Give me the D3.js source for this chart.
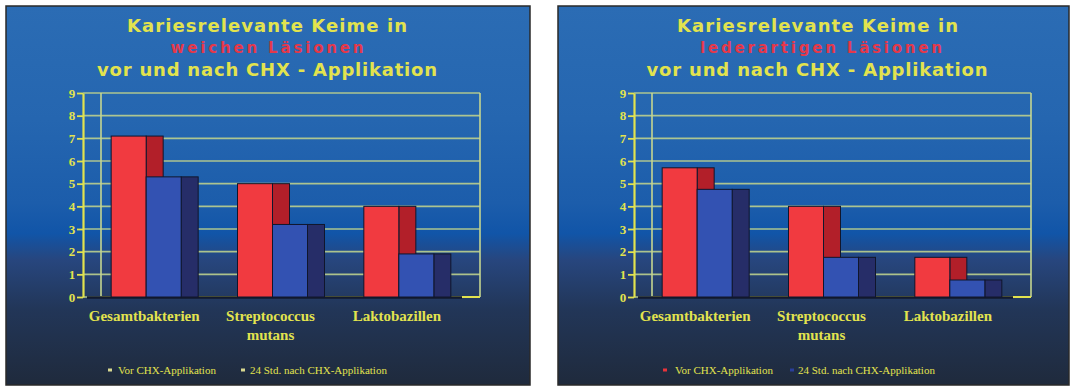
<!DOCTYPE html>
<html><head><meta charset="utf-8">
<script src="https://cdn.jsdelivr.net/npm/d3@7"></script>
<style>html,body{margin:0;padding:0;background:#fff;} svg{display:block}</style>
</head><body><svg id="c" width="1071" height="387"></svg>
<script>
// ---- data ----
const categories = ["Gesamtbakterien", "Streptococcus mutans", "Laktobazillen"];
const seriesNames = ["Vor CHX-Applikation", "24 Std. nach CHX-Applikation"];
const yTicks = [0, 1, 2, 3, 4, 5, 6, 7, 8, 9];
const titleTop = "Kariesrelevante Keime in";
const titleBottom = "vor und nach CHX - Applikation";
const lesionTitles = ["weichen Läsionen", "lederartigen Läsionen"];
const weicheVor = [7.1, 5.0, 4.0];
const weicheNach = [5.3, 3.2, 1.9];
const lederVor = [5.7, 4.0, 1.75];
const lederNach = [4.75, 1.75, 0.75];

// ---- layout / style ----
const panels = [
  { lesion: lesionTitles[0], values: [weicheVor, weicheNach], px: 6, pw: 524, dx: 0,
    titleW: [280, 193, 340], titleCx: [267, 267, 267],
    legend: [{m: 110, t: 118}, {m: 243, t: 250}], markerColors: ["#d8d890", "#d8d890"] },
  { lesion: lesionTitles[1], values: [lederVor, lederNach], px: 558, pw: 511, dx: 551,
    titleW: [281, 242, 341], titleCx: [266.5, 270, 266],
    legend: [{m: 114, t: 124}, {m: 241, t: 247}], markerColors: ["#e8333a", "#2a3f9a"] }
];
const frontColors = ["#f13a40", "#3352b2"];
const sideColors = ["#b21f29", "#262d68"];
const yellow = "#e2e34e";

const svg = d3.select("#c");
const defs = svg.append("defs");
const grad = defs.append("linearGradient").attr("id", "bg").attr("x1", 0).attr("y1", 0).attr("x2", 0).attr("y2", 1);
[[0, "#2b6cb4"], [0.3, "#2566b0"], [0.52, "#1c5dab"], [0.6, "#1155a8"], [0.67, "#27467e"], [0.8, "#223658"], [1, "#1f2a3c"]]
  .forEach(([o, c]) => grad.append("stop").attr("offset", o).attr("stop-color", c));

const y = d3.scaleLinear().domain([0, 9]).range([297, 93]);
const x = d3.scaleBand().domain(categories).range([83, 462]);
const xs = d3.scaleBand().domain(seriesNames).range([0, 70]);
const groupOffset = (x.bandwidth() - 70) / 2;
const depth = 17, wallDepth = 18;

panels.forEach(p => {
  svg.append("rect").attr("x", p.px).attr("y", 6).attr("width", p.pw).attr("height", 379)
    .attr("fill", "url(#bg)").attr("stroke", "#2a2a2a").attr("stroke-width", 1.5);

  const g = svg.append("g").attr("transform", `translate(${p.dx},0)`);

  // title
  const tl = [titleTop, p.lesion, titleBottom];
  const tb = [32, 53, 76];
  const ts = [18, 15, 18];
  tl.forEach((t, i) => {
    g.append("text").text(t).attr("x", p.titleCx[i]).attr("y", tb[i])
      .attr("text-anchor", "middle").attr("textLength", p.titleW[i]).attr("lengthAdjust", "spacing")
      .attr("font-family", "DejaVu Sans").attr("font-weight", "bold").attr("font-size", ts[i])
      .attr("fill", i === 1 ? "#e5384a" : yellow);
  });

  const x0 = x.range()[0], x1 = x.range()[1];
  // gridlines
  g.selectAll("line.grid").data(yTicks).join("line").attr("class", "grid")
    .attr("x1", x0).attr("x2", x1 + wallDepth).attr("y1", d => y(d)).attr("y2", d => y(d))
    .attr("stroke", "#bcd08e").attr("stroke-width", 1.6).attr("opacity", 0.9);
  // back wall verticals
  [x0 + wallDepth, x1 + wallDepth].forEach(xx => {
    g.append("line").attr("x1", xx).attr("x2", xx).attr("y1", y(9)).attr("y2", y(0))
      .attr("stroke", "#c6d690").attr("stroke-width", 1.6);
  });
  g.append("line").attr("x1", x0 + wallDepth).attr("x2", x1 + wallDepth).attr("y1", y(0)).attr("y2", y(0))
    .attr("stroke", yellow).attr("stroke-width", 2.2);
  // floor front edge
  g.append("line").attr("x1", x0 + 4).attr("x2", x1).attr("y1", y(0) + 0.5).attr("y2", y(0) + 0.5)
    .attr("stroke", "#121a2e").attr("stroke-width", 2.5);

  // bars
  categories.forEach((c, i) => {
    seriesNames.forEach((s, j) => {
      const v = p.values[j][i];
      const bx = x(c) + groupOffset + xs(s);
      const w = xs.bandwidth();
      g.append("rect").attr("x", bx + w).attr("y", y(v)).attr("width", depth).attr("height", y(0) - y(v))
        .attr("fill", sideColors[j]).attr("stroke", "#10162c").attr("stroke-width", 1);
      g.append("rect").attr("x", bx).attr("y", y(v)).attr("width", w).attr("height", y(0) - y(v))
        .attr("fill", frontColors[j]).attr("stroke", "#10162c").attr("stroke-width", 1);
    });
  });

  // y axis
  const ax = g.append("g").attr("transform", `translate(${x0},0)`)
    .call(d3.axisLeft(y).tickValues(yTicks).tickSize(6).tickSizeOuter(0).tickFormat(d3.format("d")));
  ax.select(".domain").attr("stroke", yellow).attr("stroke-width", 2.2);
  ax.selectAll(".tick line").attr("stroke", yellow).attr("stroke-width", 1.8);
  ax.selectAll(".tick text").attr("fill", yellow).attr("x", -11).attr("text-anchor", "middle")
    .attr("font-family", "Liberation Serif").attr("font-weight", "bold").attr("font-size", 13);

  // category labels
  categories.forEach(c => {
    const t = g.append("text").attr("text-anchor", "middle")
      .attr("font-family", "Liberation Serif").attr("font-weight", "bold").attr("font-size", 15)
      .attr("fill", yellow);
    c.split(" ").forEach((part, k) => {
      t.append("tspan").attr("x", x(c) + x.bandwidth() / 2 - 2).attr("y", 321 + k * 19).text(part);
    });
  });

  // legend
  seriesNames.forEach((s, j) => {
    g.append("rect").attr("x", p.legend[j].m - 2).attr("y", 368.5).attr("width", 4).attr("height", 3)
      .attr("fill", p.markerColors[j]);
    g.append("text").attr("x", p.legend[j].t).attr("y", 373.5).text(s)
      .attr("font-family", "Liberation Serif").attr("font-size", 11).attr("fill", yellow);
  });
});
</script>
</body></html>
